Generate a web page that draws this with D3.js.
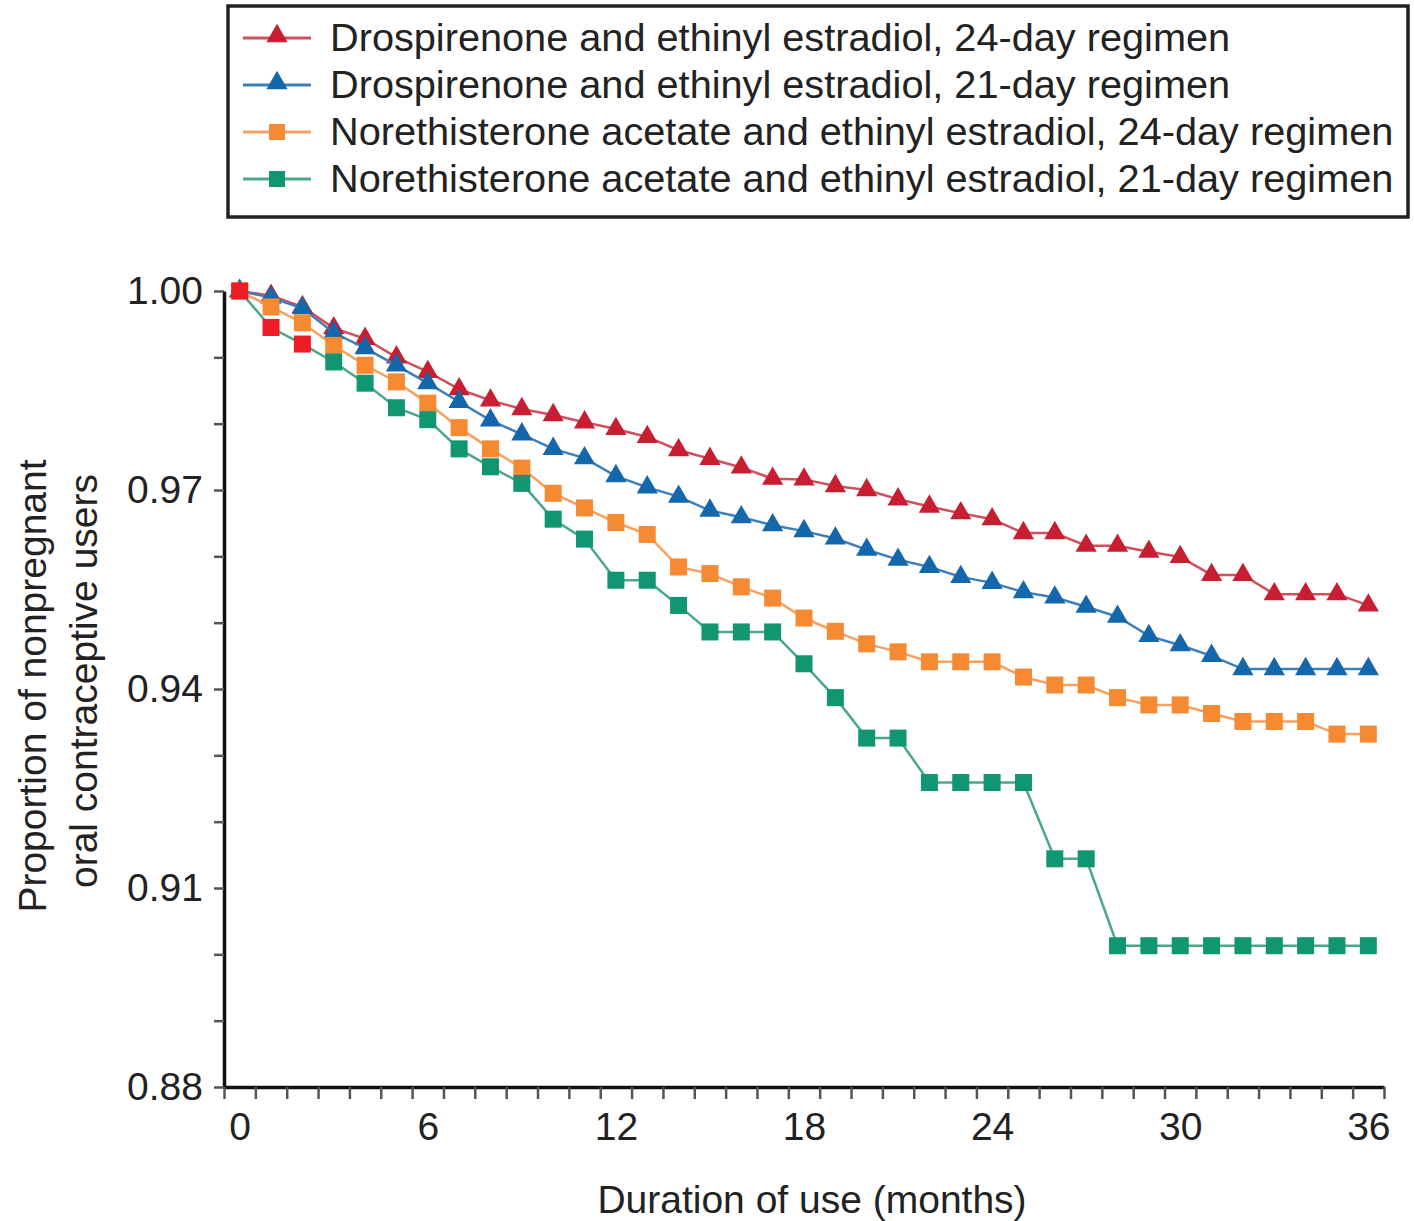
<!DOCTYPE html>
<html>
<head>
<meta charset="utf-8">
<script src="https://cdn.jsdelivr.net/npm/d3@7.9.0/dist/d3.min.js"></script>
<style>
  body { margin: 0; background: #fff; }
  svg text { font-family: "Liberation Sans", Arial, sans-serif; fill: #222; }
</style>
</head>
<body>
<svg id="chart" width="1414" height="1221"></svg>
<script>
// months 0..36
const months = d3.range(0, 37);

const seriesNames = [
  'Drospirenone and ethinyl estradiol, 24-day regimen',
  'Drospirenone and ethinyl estradiol, 21-day regimen',
  'Norethisterone acetate and ethinyl estradiol, 24-day regimen',
  'Norethisterone acetate and ethinyl estradiol, 21-day regimen'
];

const drsp24 = [1.000, 0.9993, 0.9976, 0.9944, 0.9928, 0.9900, 0.9878, 0.9852, 0.9835, 0.9822,
  0.9813, 0.9802, 0.9792, 0.9780, 0.9760, 0.9747, 0.9734, 0.9717, 0.9716, 0.9706,
  0.9700, 0.9686, 0.9675, 0.9665, 0.9656, 0.9635, 0.9635, 0.9616, 0.9616, 0.9607,
  0.9599, 0.9572, 0.9572, 0.9543, 0.9543, 0.9543, 0.9526];

const drsp21 = [1.000, 0.9990, 0.9974, 0.9937, 0.9914, 0.9888, 0.9861, 0.9833, 0.9805, 0.9784,
  0.9762, 0.9748, 0.9721, 0.9704, 0.9690, 0.9669, 0.9659, 0.9647, 0.9638, 0.9627,
  0.9610, 0.9595, 0.9584, 0.9569, 0.9560, 0.9546, 0.9538, 0.9524, 0.9509, 0.9480,
  0.9466, 0.9450, 0.9430, 0.9430, 0.9430, 0.9430, 0.9430];

const neta24 = [1.000, 0.9976, 0.9952, 0.9918, 0.9888, 0.9863, 0.9831, 0.9794, 0.9762, 0.9733,
  0.9695, 0.9673, 0.9651, 0.9633, 0.9584, 0.9574, 0.9554, 0.9537, 0.9507, 0.9487,
  0.9468, 0.9456, 0.9441, 0.9441, 0.9441, 0.9418, 0.9406, 0.9406, 0.9387, 0.9376,
  0.9376, 0.9363, 0.9351, 0.9351, 0.9351, 0.9332, 0.9332];

const neta21 = [1.000, 0.9945, 0.9920, 0.9893, 0.9861, 0.9824, 0.9806, 0.9762, 0.9735, 0.9710,
  0.9656, 0.9626, 0.9564, 0.9564, 0.9526, 0.9486, 0.9486, 0.9486, 0.9438, 0.9387,
  0.9326, 0.9326, 0.9259, 0.9259, 0.9259, 0.9259, 0.9144, 0.9144, 0.9013, 0.9013,
  0.9013, 0.9013, 0.9013, 0.9013, 0.9013, 0.9013, 0.9013];

const xLabels = [0, 6, 12, 18, 24, 30, 36];
const yLabels = [0.88, 0.91, 0.94, 0.97, 1.00];

const colors = ['#c81e32', '#1467aa', '#f58a32', '#109670'];
const lineColors = ['#d0505f', '#3c7fba', '#f7a060', '#4aa888'];
const shapes = ['triangle', 'triangle', 'square', 'square'];
const allSeries = [drsp24, drsp21, neta24, neta21];

const svg = d3.select('#chart');

// scales: ticks sit between months, so the axis runs half a month either side
const x = d3.scaleLinear().domain([-0.5, 36.5]).range([224, 1384]);
const y = d3.scaleLinear().domain([0.88, 1.00]).range([1087, 291]);

// y axis
const yAxis = svg.append('g')
  .attr('transform', 'translate(224,0)')
  .call(d3.axisLeft(y)
    .tickValues(d3.range(0, 13).map(i => 0.88 + i * 0.01))
    .tickSize(10)
    .tickSizeOuter(0)
    .tickPadding(11)
    .tickFormat(d => yLabels.some(v => Math.abs(v - d) < 1e-6) ? d3.format('.2f')(d) : ''));
yAxis.select('.domain').attr('stroke', '#111').attr('stroke-width', 3.5);
yAxis.selectAll('.tick line').attr('stroke', '#555').attr('stroke-width', 2.5);
yAxis.selectAll('.tick text').style('font-size', '39px').attr('fill', '#222');

// x axis: minor ticks at half months
const xAxis = svg.append('g')
  .attr('transform', 'translate(0,1087)')
  .call(d3.axisBottom(x)
    .tickValues(d3.range(0, 38).map(i => i - 0.5))
    .tickSize(12)
    .tickSizeOuter(0)
    .tickFormat(''));
xAxis.select('.domain').attr('stroke', '#111').attr('stroke-width', 3.5);
xAxis.selectAll('.tick line').attr('stroke', '#555').attr('stroke-width', 2.5);

// x labels
const xLab = svg.append('g')
  .attr('transform', 'translate(0,1087)')
  .call(d3.axisBottom(x).tickValues(xLabels).tickSize(0).tickPadding(25));
xLab.select('.domain').remove();
xLab.selectAll('.tick text').style('font-size', '39px').attr('fill', '#222');

// axis titles
svg.append('text')
  .attr('x', 812).attr('y', 1213)
  .attr('text-anchor', 'middle')
  .style('font-size', '39px')
  .text('Duration of use (months)');

svg.append('text')
  .attr('transform', 'translate(46,686) rotate(-90)')
  .attr('text-anchor', 'middle')
  .style('font-size', '39px')
  .text('Proportion of nonpregnant');

svg.append('text')
  .attr('transform', 'translate(97,681) rotate(-90)')
  .attr('text-anchor', 'middle')
  .style('font-size', '39px')
  .text('oral contraceptive users');

// series
const line = d3.line().x((d, i) => x(months[i])).y(d => y(d));
const triangle = d3.symbol().type(d3.symbolTriangle).size(195);

allSeries.forEach((vals, s) => {
  const g = svg.append('g');
  g.append('path')
    .datum(vals)
    .attr('fill', 'none')
    .attr('stroke', lineColors[s])
    .attr('stroke-width', 2.5)
    .attr('d', line);

  if (shapes[s] === 'triangle') {
    g.selectAll('path.mk')
      .data(vals)
      .join('path')
      .attr('class', 'mk')
      .attr('d', triangle)
      .attr('fill', colors[s])
      .attr('transform', (d, i) => `translate(${x(months[i])},${y(d)})`);
  } else {
    g.selectAll('rect')
      .data(vals)
      .join('rect')
      .attr('x', (d, i) => x(months[i]) - 8.5)
      .attr('y', d => y(d) - 8.5)
      .attr('width', 17)
      .attr('height', 17)
      // the first few points of the last series are printed red in the source figure
      .attr('fill', (d, i) => (s === 3 && i < 3) ? '#ee1c25' : colors[s]);
  }
});

// legend
const legend = svg.append('g');
legend.append('rect')
  .attr('x', 228).attr('y', 6)
  .attr('width', 1180).attr('height', 211)
  .attr('fill', '#fff')
  .attr('stroke', '#222')
  .attr('stroke-width', 3.5);

seriesNames.forEach((name, i) => {
  const cy = 38 + i * 47;
  legend.append('line')
    .attr('x1', 243).attr('x2', 311)
    .attr('y1', cy).attr('y2', cy)
    .attr('stroke', lineColors[i])
    .attr('stroke-width', 3);
  if (shapes[i] === 'triangle') {
    legend.append('path')
      .attr('d', triangle)
      .attr('fill', colors[i])
      .attr('transform', `translate(277,${cy - 2})`);
  } else {
    legend.append('rect')
      .attr('x', 277 - 8).attr('y', cy - 8)
      .attr('width', 16).attr('height', 16)
      .attr('fill', colors[i]);
  }
  legend.append('text')
    .attr('x', 330).attr('y', cy + 13)
    .style('font-size', '39.7px')
    .text(name);
});
</script>
</body>
</html>
